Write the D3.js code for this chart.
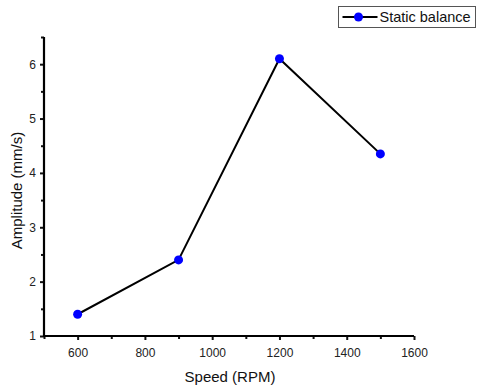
<!DOCTYPE html>
<html>
<head>
<meta charset="utf-8">
<script src="https://cdn.jsdelivr.net/npm/d3@7"></script>
<style>
  body { margin: 0; background: #fff; }
  svg { display: block; font-family: "Liberation Sans", Arial, sans-serif; }
</style>
</head>
<body>
<div id="chart"></div>
<script>
// data
const speeds     = [600, 900, 1200, 1500];
const amplitudes = [1.4, 2.4, 6.1, 4.35];
const xTicks     = [600, 800, 1000, 1200, 1400, 1600];
const yTicks     = [1, 2, 3, 4, 5, 6];
const seriesName = "Static balance";

const W = 478, H = 387;
const margin = { top: 37, right: 64, bottom: 51, left: 44 };
const width  = W - margin.left - margin.right;
const height = H - margin.top - margin.bottom;

const svg = d3.select("#chart").append("svg")
  .attr("width", W).attr("height", H);

const g = svg.append("g")
  .attr("transform", `translate(${margin.left},${margin.top})`);

const x = d3.scaleLinear().domain([500, 1600]).range([0, width]);
const y = d3.scaleLinear().domain([1, 6.5]).range([height, 0]);

// ── Axes ───────────────────────────────────────────────
g.append("g")
  .attr("transform", `translate(0,${height})`)
  .call(d3.axisBottom(x).tickValues(xTicks).tickSize(4).tickPadding(8).tickFormat(d3.format("d")));

// minor x ticks
g.append("g")
  .attr("transform", `translate(0,${height})`)
  .call(d3.axisBottom(x).tickValues(d3.range(500, 1601, 100).filter(v => !xTicks.includes(v)))
    .tickSize(3).tickFormat(""));

g.append("g")
  .call(d3.axisLeft(y).tickValues(yTicks).tickSize(4).tickPadding(4).tickFormat(d3.format("d")));

// minor y ticks
g.append("g")
  .call(d3.axisLeft(y).tickValues([1.5, 2.5, 3.5, 4.5, 5.5, 6.5]).tickSize(3).tickFormat(""));

g.selectAll(".domain").remove();
g.selectAll(".tick line").attr("stroke", "#111").attr("stroke-width", 2);
g.selectAll(".tick text")
  .style("font-size", "12px")
  .style("font-family", "Liberation Sans, Arial, sans-serif")
  .attr("fill", "#222");

// heavy axis lines (Origin style)
g.append("line")
  .attr("x1", x.range()[0]).attr("x2", x.range()[1])
  .attr("y1", height).attr("y2", height)
  .attr("stroke", "#000").attr("stroke-width", 2.2);
g.append("line")
  .attr("x1", 0).attr("x2", 0)
  .attr("y1", y.range()[0] + 1).attr("y2", y.range()[1])
  .attr("stroke", "#000").attr("stroke-width", 2.2);

// axis titles
g.append("text")
  .attr("x", width / 2 + 1).attr("y", height + 46)
  .attr("text-anchor", "middle")
  .style("font-size", "15px")
  .attr("fill", "#111")
  .text("Speed (RPM)");

g.append("text")
  .attr("transform", `translate(${-22},${height / 2 + 4}) rotate(-90)`)
  .attr("text-anchor", "middle")
  .style("font-size", "15px")
  .attr("fill", "#111")
  .text("Amplitude (mm/s)");

// ── Series ─────────────────────────────────────────────
const pts = speeds.map((s, i) => [x(s), y(amplitudes[i])]);

g.append("path")
  .datum(pts)
  .attr("fill", "none")
  .attr("stroke", "#000")
  .attr("stroke-width", 2)
  .attr("d", d3.line());

g.selectAll(".dot")
  .data(pts).enter().append("circle")
  .attr("class", "dot")
  .attr("cx", d => d[0]).attr("cy", d => d[1])
  .attr("r", 4.5)
  .attr("fill", "#0000ff");

// ── Legend ─────────────────────────────────────────────
const leg = svg.append("g").attr("transform", "translate(338.5,6.5)");
leg.append("rect")
  .attr("width", 137).attr("height", 21)
  .attr("fill", "#fff").attr("stroke", "#555").attr("stroke-width", 1);
leg.append("line")
  .attr("x1", 4).attr("x2", 39).attr("y1", 10.5).attr("y2", 10.5)
  .attr("stroke", "#000").attr("stroke-width", 2);
leg.append("circle")
  .attr("cx", 20).attr("cy", 10.5).attr("r", 4.5).attr("fill", "#0000ff");
leg.append("text")
  .attr("x", 41).attr("y", 15.5)
  .style("font-size", "14.5px")
  .attr("fill", "#111")
  .text(seriesName);
</script>
</body>
</html>
